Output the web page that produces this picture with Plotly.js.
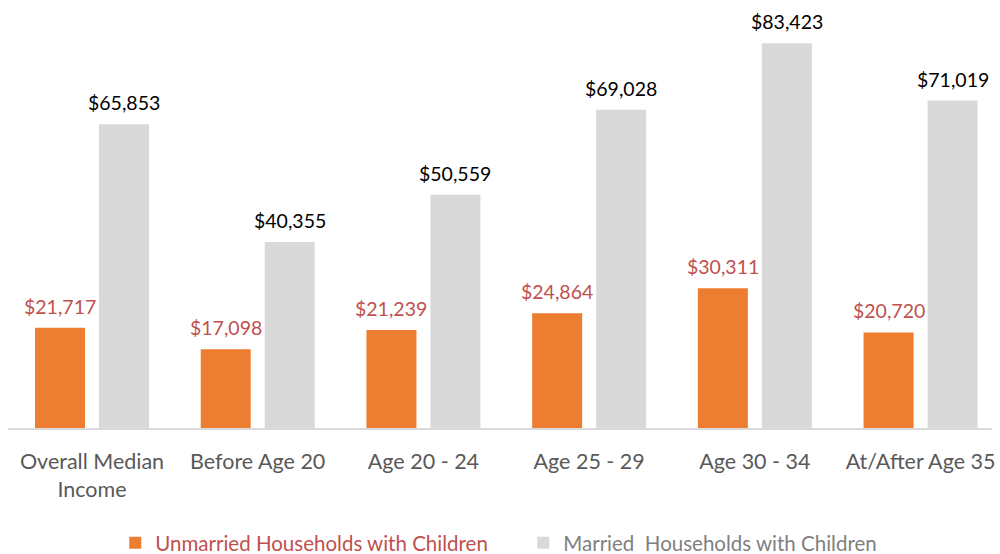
<!DOCTYPE html>
<html><head><meta charset="utf-8">
<script src="https://cdn.plot.ly/plotly-3.0.1.min.js"></script>
<style>html,body{margin:0;padding:0;background:#fff}#chart{width:1000px;height:554px}</style>
</head><body><div id="chart"></div>
<script>
const categories = ["Overall Median<br>Income", "Before Age 20", "Age 20 - 24", "Age 25 - 29", "Age 30 - 34", "At/After Age 35"];
const unmarried = [21717, 17098, 21239, 24864, 30311, 20720];
const married = [65853, 40355, 50559, 69028, 83423, 71019];
const fmt = v => "$" + v.toLocaleString("en-US");
const FONT = "Lato, 'Open Sans', sans-serif";
const traces = [
  {type:"bar", x:categories, y:unmarried, name:'<span style="color:#C0504D">Unmarried Households with Children</span>',
   marker:{color:"#ED7D31"}, hoverinfo:"skip"},
  {type:"bar", x:categories, y:married, name:'<span style="color:#7F7F7F">Married  Households with Children</span>',
   marker:{color:"#D9D9D9"}, hoverinfo:"skip"}
];
const annotations = [];
categories.forEach((c, i) => {
  annotations.push({x:c, y:unmarried[i], xref:"x", yref:"y", text:fmt(unmarried[i]), showarrow:false,
    xanchor:"center", yanchor:"bottom", xshift:-32, yshift:8, font:{color:"#C0504D", size:19.5, family:FONT}});
  annotations.push({x:c, y:married[i], xref:"x", yref:"y", text:fmt(married[i]), showarrow:false,
    xanchor:"center", yanchor:"bottom", xshift:32, yshift:8, font:{color:"#000000", size:19.5, family:FONT}});
});
const layout = {
  width:1000, height:554, paper_bgcolor:"#fff", plot_bgcolor:"#fff",
  margin:{l:8, r:8, t:13, b:126},
  barmode:"group", bargap:0.2275, bargroupgap:0.219,
  font:{family:FONT, color:"#595959"},
  xaxis:{type:"category", range:[-0.507, 5.431], tickfont:{size:21.5, color:"#595959", family:FONT}, showline:true, linecolor:"#D9D9D9", linewidth:1.5,
         ticks:"", ticklabelstandoff:14, showgrid:false, automargin:false},
  yaxis:{range:[0,90000], visible:false, showgrid:false, zeroline:false},
  annotations: annotations,
  showlegend:true,
  legend:{orientation:"h", x:0.109, xanchor:"left", yref:"container", y:0.02, yanchor:"middle", font:{size:20.5, family:FONT},
          traceorder:"normal", entrywidth:363, entrywidthmode:"pixels"}
};
Plotly.newPlot("chart", traces, layout, {staticPlot:true});
</script></body></html>
